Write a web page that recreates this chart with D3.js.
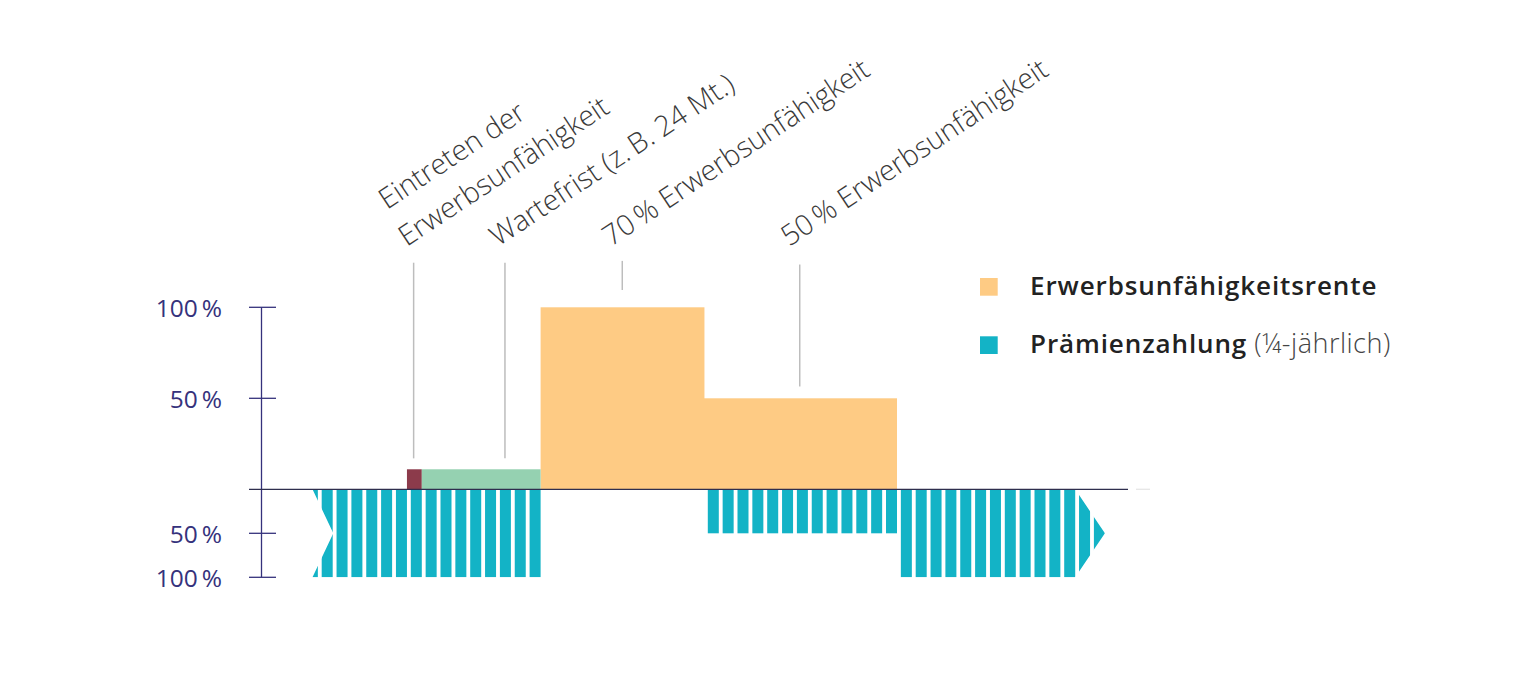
<!DOCTYPE html>
<html><head><meta charset="utf-8">
<script src="https://cdn.jsdelivr.net/npm/d3@7"></script>
<style>body{margin:0;background:#fff} svg{display:block}</style>
</head><body>
<svg id="c" width="1536" height="679"></svg>
<script>
// ---------- data ----------
const quarterDomain = [0, 53];                 // quarters on the time axis
const paymentStart = [-1, 26, 39];             // premium payment phases (quarter index)
const paymentEnd   = [15, 39, 53];
const paymentLevel = [100, 50, 100];           // % of premium paid
const benefitStart = [15, 26];                 // pension phases
const benefitEnd   = [26, 39];
const benefitLevel = [100, 50];                // % pension
const phaseNames = ["Eintreten", "Wartefrist"];
const phaseStart = [6, 7];
const phaseEnd   = [7, 15];
const phaseLevel = [11, 11];
const upperTicks = [100, 50];
const lowerTicks = [50, 100];
const tickLabel = v => v + "\u2009%";
const annotationText = [["Eintreten der", "Erwerbsunfähigkeit"], ["Wartefrist (z.\u2009B. 24 Mt.)"], ["70\u2009% Erwerbsunfähigkeit"], ["50\u2009% Erwerbsunfähigkeit"]];
const annotationQuarter = [6.45, 12.6, 20.5, 32.45];
const legendLabels = ["Erwerbsunfähigkeitsrente", "Prämienzahlung"];
const legendNotes  = ["", "(¼-jährlich)"];

// ---------- layout / style ----------
const colors = { benefit: "#fecb84", payment: "#13b3c6", onset: "#8c3b4b", waiting: "#95d1b1",
                 axis: "#35327c", base: "#2e2e4e", leader: "#bdbdbd", text: "#3a3a3a", legend: "#222" };
const leaderTop = [124.5, 124.5, 125.5, 123.5];
const leaderBottom = [17, 17, 109.5, 56.5];
const annotationDx = [-7, -7, -11.5, -10.5];
const angle = -33.5;

const svg = d3.select("#c");
const x = d3.scaleLinear().domain(quarterDomain).range([317.85, 1104.9]);
const yUp = d3.scaleLinear().domain([0, 100]).range([489.3, 307.3]);
const yDown = d3.scaleLinear().domain([0, 100]).range([489.3, 577.3]);
const gap = 3.85;

// clip for payment stripes (swallow tail left, arrow right)
const clip = svg.append("defs").append("clipPath").attr("id", "payClip");
clip.append("polygon").attr("points", [
  [x(-0.36), yDown(0)], [x(51), yDown(0)], [x(53), yDown(50)], [x(51), yDown(100)],
  [x(-0.36), yDown(100)], [x(1.04), yDown(50)]
].map(p => p.join(",")).join(" "));

// payment stripes
const stripes = [];
paymentStart.forEach((s, i) => {
  d3.range(s, paymentEnd[i]).forEach(q => stripes.push({ q, level: paymentLevel[i] }));
});
svg.append("g").attr("clip-path", "url(#payClip)")
  .selectAll("rect").data(stripes).join("rect")
  .attr("x", d => x(d.q) + gap)
  .attr("width", d => x(d.q + 1) - x(d.q) - gap)
  .attr("y", yDown(0))
  .attr("height", d => yDown(d.level) - yDown(0))
  .attr("fill", colors.payment);

// benefit blocks
svg.append("g").selectAll("rect").data(benefitStart).join("rect")
  .attr("x", d => x(d))
  .attr("width", (d, i) => x(benefitEnd[i]) - x(d) + (i === 0 ? 0.5 : 0))
  .attr("y", (d, i) => yUp(benefitLevel[i]))
  .attr("height", (d, i) => yUp(0) - yUp(benefitLevel[i]))
  .attr("fill", colors.benefit);

// onset / waiting
svg.append("g").selectAll("rect").data(phaseStart).join("rect")
  .attr("x", d => x(d))
  .attr("width", (d, i) => x(phaseEnd[i]) - x(d))
  .attr("y", (d, i) => yUp(phaseLevel[i]))
  .attr("height", (d, i) => yUp(0) - yUp(phaseLevel[i]))
  .attr("fill", (d, i) => i === 0 ? colors.onset : colors.waiting);

// axis
const ax = svg.append("g");
ax.append("line").attr("x1", 261.5).attr("x2", 261.5).attr("y1", yUp(100)).attr("y2", yDown(100))
  .attr("stroke", colors.axis).attr("stroke-width", 1.3);
const tickYs = upperTicks.map(v => ({ v, y: yUp(v) })).concat(lowerTicks.map(v => ({ v, y: yDown(v) })));
ax.selectAll("line.t").data(tickYs).join("line").attr("class", "t")
  .attr("x1", 249).attr("x2", 276).attr("y1", d => d.y).attr("y2", d => d.y)
  .attr("stroke", colors.axis).attr("stroke-width", 1.3);
ax.selectAll("text").data(tickYs).join("text")
  .attr("x", 222).attr("y", d => d.y + 9.4).attr("text-anchor", "end")
  .attr("font-family", "'Open Sans', sans-serif").attr("font-weight", 400)
  .attr("font-size", 24.5).attr("fill", colors.axis).text(d => tickLabel(d.v));

// baseline
svg.append("line").attr("x1", 249).attr("x2", 1128).attr("y1", yUp(0)).attr("y2", yUp(0))
  .attr("stroke", colors.base).attr("stroke-width", 1.3);
svg.append("line").attr("x1", 1136).attr("x2", 1150).attr("y1", yUp(0)).attr("y2", yUp(0))
  .attr("stroke", "#e6e6e6").attr("stroke-width", 1.3);

// leader lines
svg.append("g").selectAll("line").data(annotationQuarter).join("line")
  .attr("x1", d => x(d)).attr("x2", d => x(d))
  .attr("y1", (d, i) => yUp(leaderTop[i])).attr("y2", (d, i) => yUp(leaderBottom[i]))
  .attr("stroke", colors.leader).attr("stroke-width", 1.5);

// annotations
const ann = svg.append("g").selectAll("text").data(annotationText).join("text")
  .attr("transform", (d, i) => `translate(${x(annotationQuarter[i]) + annotationDx[i]},247) rotate(${angle})`)
  .attr("font-family", "'Open Sans', sans-serif").attr("font-weight", 300)
  .attr("font-size", 28.5).attr("fill", colors.text);
ann.each(function (lines) {
  const t = d3.select(this);
  const n = lines.length;
  lines.forEach((l, j) => {
    t.append("tspan").attr("x", (n - 1 - j) * 4).attr("y", -(n - 1 - j) * 41.6).text(l);
  });
});

// legend
const lg = svg.append("g");
const legendY = [295, 353.3];
legendLabels.forEach((l, i) => {
  lg.append("rect").attr("x", 980).attr("y", legendY[i] - 17).attr("width", 17.7).attr("height", 17.7)
    .attr("fill", i === 0 ? colors.benefit : colors.payment);
  const t = lg.append("text").attr("x", 1030).attr("y", legendY[i])
    .attr("font-family", "'Open Sans', sans-serif").attr("font-size", 26).attr("fill", colors.legend);
  t.append("tspan").attr("font-weight", 600).attr("letter-spacing", 0.9).text(l);
  if (legendNotes[i]) t.append("tspan").attr("font-weight", 300).attr("font-size", 27)
    .attr("letter-spacing", 0.5).attr("fill", "#444").attr("dx", 7).text(legendNotes[i]);
});
</script>
</body></html>
